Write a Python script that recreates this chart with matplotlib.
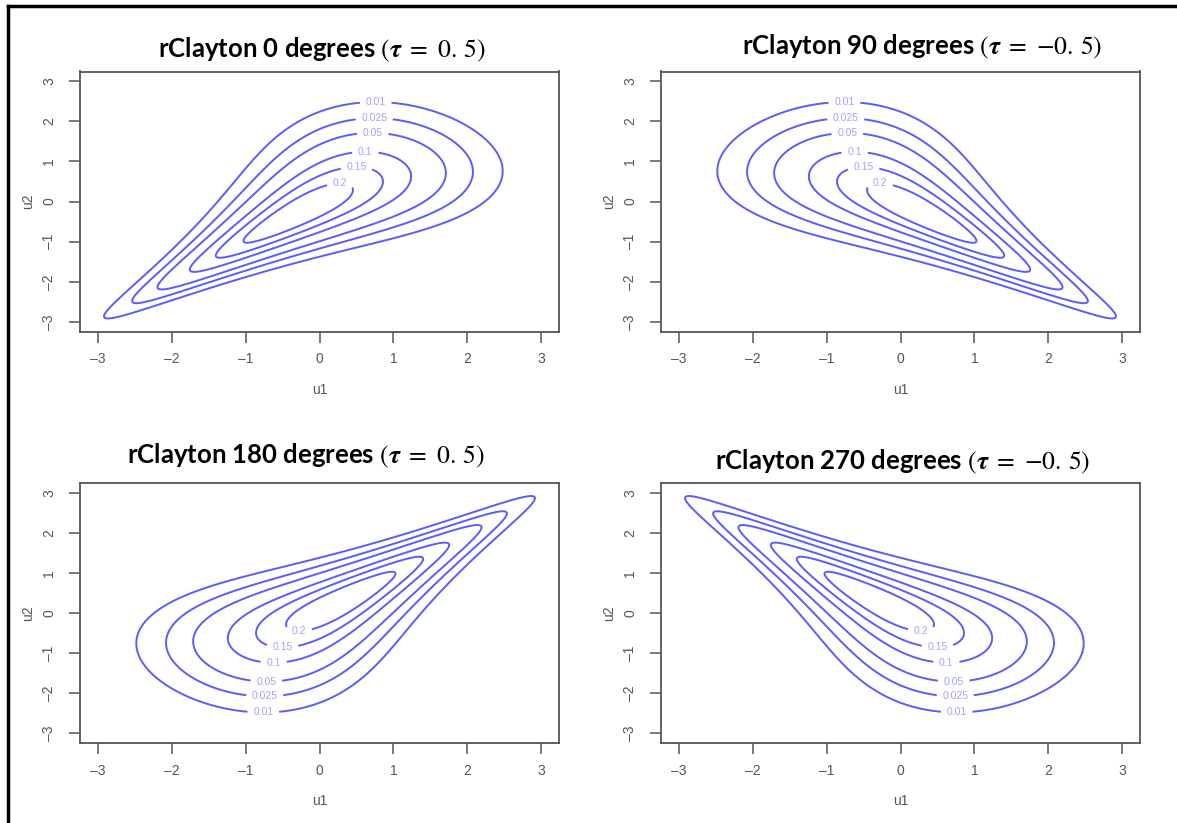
import math
import numpy as np
import matplotlib
matplotlib.use("Agg")
import matplotlib.pyplot as plt
from matplotlib.lines import Line2D

# panels: rotation of the Clayton copula and Kendall's tau
rotations = [0, 90, 180, 270]
taus = [0.5, -0.5, 0.5, -0.5]
levels = [0.01, 0.025, 0.05, 0.1, 0.15, 0.2]
ticks = [-3, -2, -1, 0, 1, 2, 3]
grid_lo, grid_hi, grid_n = -3, 3, 301

plt.rcParams['font.family'] = ['Liberation Sans', 'DejaVu Sans']
plt.rcParams['mathtext.fontset'] = 'stix'

W, H = 1177, 823
fig = plt.figure(figsize=(W / 100, H / 100), dpi=100)

# axes boxes in pixels (left, top, right, bottom) and title centres
boxes = [(80, 71.5, 559, 331.5), (661, 71.5, 1140, 331.5),
         (80, 483, 559, 743), (661, 483, 1140, 743)]
title_pos = [(322, 50), (922, 47), (306, 456), (903, 462)]

line_col = '#5b5bff'
label_col = '#a3a3ff'
axis_col = '#555555'


def norm_cdf(x):
    return np.array([0.5 * (1 + math.erf(v / math.sqrt(2))) for v in x])


def clayton(u, v, theta):
    return (1 + theta) * (u * v) ** (-1 - theta) * \
        (u ** -theta + v ** -theta - 1) ** (-1 / theta - 2)


z = np.linspace(grid_lo, grid_hi, grid_n)
pz = norm_cdf(z)
phi = np.exp(-z ** 2 / 2) / math.sqrt(2 * math.pi)
U1, U2 = np.meshgrid(pz, pz)
F1, F2 = np.meshgrid(phi, phi)
X, Y = np.meshgrid(z, z)

for rot, tau, box, tpos in zip(rotations, taus, boxes, title_pos):
    l, t, r, b = box
    ax = fig.add_axes([l / W, 1 - b / H, (r - l) / W, (b - t) / H])
    theta = 2 * abs(tau) / (1 - abs(tau))
    a = 1 - U1 if rot in (90, 180) else U1
    c = 1 - U2 if rot in (180, 270) else U2
    dens = clayton(a, c, theta) * F1 * F2

    cs = ax.contour(X, Y, dens, levels=levels, colors=line_col, linewidths=1.4)
    # put each label on the flattest part: top for 0/90, bottom for 180/270
    spots = []
    for segs in cs.allsegs:
        pts = np.concatenate(segs)
        i = np.argmax(pts[:, 1]) if rot in (0, 90) else np.argmin(pts[:, 1])
        spots.append(tuple(pts[i]))
    lbl = ax.clabel(cs, manual=spots, inline=True, inline_spacing=7,
                    fontsize=7.5, colors=label_col, fmt=lambda v: f'{v:g}')
    for txt in lbl:
        txt.set_rotation(0)

    ax.set_xlim(-3.24, 3.24)
    ax.set_ylim(-3.24, 3.24)
    ax.set_xticks(ticks)
    ax.set_yticks(ticks)
    ax.set_xticklabels([f'{v}'.replace('-', '\u2013') for v in ticks])
    ax.set_yticklabels([f'{v}'.replace('-', '\u2013') for v in ticks],
                       rotation=90, va='center')
    ax.tick_params(length=8, width=1.1, color=axis_col, labelcolor=axis_col,
                   labelsize=10)
    ax.tick_params(axis='x', pad=7)
    ax.tick_params(axis='y', pad=9)
    for sp in ax.spines.values():
        sp.set_color(axis_col)
        sp.set_linewidth(1.3)
    ax.set_xlabel('u1', fontsize=10, color=axis_col)
    ax.set_ylabel('u2', fontsize=10, color=axis_col)
    ax.xaxis.set_label_coords(0.5, -58 / (b - t))
    ax.xaxis.label.set_va('center')
    ax.yaxis.set_label_coords(-52 / (r - l), 0.5)
    ax.yaxis.label.set_va('center')

    tau_txt = f'{tau:g}'.replace('.', '.\\,').replace('-', '{-}')
    fig.text(tpos[0] / W, 1 - tpos[1] / H,
             f'rClayton {rot} degrees $(\\boldsymbol{{\\tau}}\\ =\\ {tau_txt})$',
             family='Lato', weight='bold', fontsize=18.5, ha='center', va='center')

# frame of the screenshot: left and top edges
fig.add_artist(Line2D([8 / W, 8 / W], [0, 1 - 6 / H], transform=fig.transFigure,
                      color='black', lw=2.5))
fig.add_artist(Line2D([8 / W, 1], [1 - 6 / H, 1 - 6 / H], transform=fig.transFigure,
                      color='black', lw=2.5))

fig.savefig('out.png', dpi=100)
